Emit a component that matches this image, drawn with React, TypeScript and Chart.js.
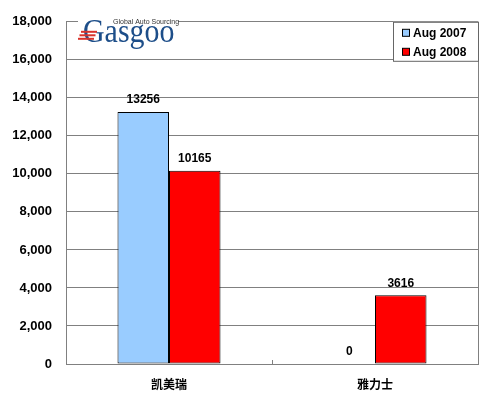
import React, { useEffect, useRef } from 'react';
import { Chart, registerables } from 'chart.js';

Chart.register(...registerables);

const categories = ['凯美瑞', '雅力士'];
const seriesLabels = ['Aug 2007', 'Aug 2008'];
const aug2007 = [13256, 0];
const aug2008 = [10165, 3616];
const yMax = 18000;
const yStep = 2000;

const seriesColors = ['#99CCFF', '#FF0000'];

// numbers above each bar
const valueLabels = {
  id: 'valueLabels',
  afterDatasetsDraw(chart: any) {
    const ctx = chart.ctx;
    ctx.save();
    ctx.font = 'bold 12px "Liberation Sans", Arial, sans-serif';
    ctx.fillStyle = '#000';
    ctx.textAlign = 'center';
    ctx.textBaseline = 'bottom';
    chart.data.datasets.forEach((ds: any, i: number) => {
      const meta = chart.getDatasetMeta(i);
      meta.data.forEach((el: any, j: number) => {
        ctx.fillText(String(ds.data[j]), el.x, el.y - 6);
      });
    });
    ctx.restore();
  }
};

// right border of the plot area, tick between categories, legend and logo
const decorations = {
  id: 'decorations',
  afterDraw(chart: any) {
    const ctx = chart.ctx;
    const { left, right, top, bottom } = chart.chartArea;
    const xs = chart.scales.x;
    ctx.save();

    ctx.strokeStyle = '#808080';
    ctx.lineWidth = 1;
    ctx.beginPath();
    ctx.moveTo(right + 0.5, top);
    ctx.lineTo(right + 0.5, bottom);
    ctx.stroke();

    for (let i = 1; i < categories.length; i++) {
      const x = Math.round((xs.getPixelForTick(i - 1) + xs.getPixelForTick(i)) / 2) + 0.5;
      ctx.beginPath();
      ctx.moveTo(x, bottom - 4);
      ctx.lineTo(x, bottom);
      ctx.stroke();
    }

    // legend
    const lw = 85;
    const lh = 39;
    const lx = right - lw;
    const ly = top;
    ctx.fillStyle = '#fff';
    ctx.fillRect(lx, ly, lw, lh);
    ctx.strokeStyle = '#666';
    ctx.strokeRect(lx + 0.5, ly + 0.5, lw, lh);
    ctx.font = 'bold 12px "Liberation Sans", Arial, sans-serif';
    ctx.textBaseline = 'middle';
    ctx.textAlign = 'left';
    chart.data.datasets.forEach((ds: any, i: number) => {
      const cy = ly + 11 + i * 19;
      ctx.fillStyle = ds.backgroundColor;
      ctx.fillRect(lx + 9.5, cy - 3.5, 7, 7);
      ctx.strokeStyle = '#000';
      ctx.strokeRect(lx + 9.5, cy - 3.5, 7, 7);
      ctx.fillStyle = '#000';
      ctx.fillText(ds.label, lx + 20, cy + 1);
    });

    // logo
    const gx = left + 15;
    ctx.fillStyle = '#fff';
    ctx.fillRect(left + 12, top - 6, 100, 12);
    ctx.fillStyle = '#333';
    ctx.font = '7px "Liberation Sans", Arial, sans-serif';
    ctx.textBaseline = 'middle';
    ctx.fillText('Global Auto Sourcing', gx + 32, top);
    ctx.fillStyle = '#1D4E89';
    ctx.font = '34px "Liberation Serif", "DejaVu Serif", serif';
    ctx.textBaseline = 'alphabetic';
    ctx.save();
    ctx.translate(gx + 2, top + 20);
    ctx.scale(0.88, 1);
    ctx.fillText('Gasgoo', 0, 0);
    ctx.restore();
    ctx.fillStyle = '#D9322B';
    for (let k = 0; k < 3; k++) {
      ctx.fillRect(gx - k * 1.5, top + 9 + k * 3.5, 16, 2);
    }

    ctx.restore();
  }
};

const App: React.FC = () => {
  const chartRef = useRef<HTMLCanvasElement>(null);
  const chartInstance = useRef<Chart | null>(null);

  useEffect(() => {
    if (!chartRef.current) return;
    if (chartInstance.current) chartInstance.current.destroy();
    const ctx = chartRef.current.getContext('2d');
    if (!ctx) return;

    const values = [aug2007, aug2008];

    chartInstance.current = new Chart(ctx, {
      type: 'bar',
      data: {
        labels: categories,
        datasets: seriesLabels.map((label, i) => ({
          label,
          data: values[i],
          backgroundColor: seriesColors[i],
          borderColor: '#000',
          borderWidth: (c: any) => (c.raw === 0 ? 0 : 1),
          borderSkipped: false,
          barPercentage: 1,
          categoryPercentage: 0.5
        }))
      },
      options: {
        animation: false,
        responsive: true,
        maintainAspectRatio: false,
        layout: { padding: { top: 20, right: 22, bottom: 0, left: 0 } },
        plugins: {
          legend: { display: false },
          tooltip: { enabled: false }
        },
        scales: {
          x: {
            afterFit: (s: any) => { s.height = 40; },
            grid: { display: false, drawTicks: false },
            border: { display: true, color: '#808080' },
            ticks: {
              padding: 13,
              color: '#000',
              font: { family: '"Noto Sans CJK SC", sans-serif', size: 12, weight: 'bold' }
            }
          },
          y: {
            min: 0,
            max: yMax,
            afterFit: (s: any) => { s.width = 66; },
            grid: { color: '#808080', drawTicks: false },
            border: { display: true, color: '#808080' },
            ticks: {
              stepSize: yStep,
              padding: 14,
              color: '#000',
              font: { family: '"Liberation Sans", Arial, sans-serif', size: 13, weight: 'bold' },
              callback: (v: any) => Number(v).toLocaleString('en-US')
            }
          }
        }
      },
      plugins: [valueLabels, decorations]
    });

    return () => {
      if (chartInstance.current) {
        chartInstance.current.destroy();
        chartInstance.current = null;
      }
    };
  }, []);

  return (
    <div style={{ position: 'fixed', left: 0, top: 0, width: 500, height: 404, background: '#fff' }}>
      <canvas ref={chartRef}></canvas>
    </div>
  );
};

export default App;
